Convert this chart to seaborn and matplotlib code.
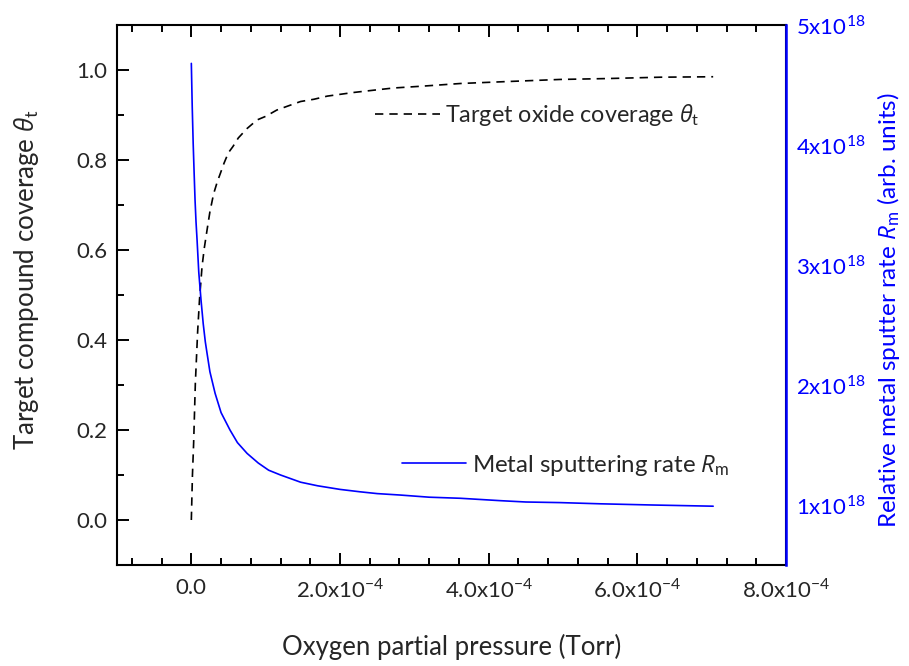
import matplotlib
matplotlib.use("Agg")
import matplotlib.pyplot as plt
from matplotlib.ticker import MultipleLocator, FixedLocator, FixedFormatter
from matplotlib.lines import Line2D
import seaborn as sns

# ---- data ----
pressure_theta = [0, 1.5e-6, 3.1e-6, 5.4e-6, 8.5e-6, 1.1e-5, 1.44e-5, 1.75e-5, 2.11e-5, 2.5e-5,
                  3.0e-5, 3.5e-5, 3.9e-5, 4.4e-5, 4.98e-5, 5.6e-5, 6.32e-5, 7.5e-5, 8.84e-5,
                  1.0e-4, 1.15e-4, 1.3e-4, 1.47e-4, 1.65e-4, 1.83e-4, 2.18e-4, 2.5e-4, 2.72e-4,
                  3.1e-4, 3.62e-4, 4.2e-4, 4.96e-4, 5.6e-4, 6.31e-4, 7.02e-4]
theta = [0.0, 0.10, 0.171, 0.304, 0.419, 0.49, 0.563, 0.605, 0.644, 0.685, 0.725, 0.752, 0.770,
         0.793, 0.816, 0.83, 0.849, 0.87, 0.889, 0.897, 0.911, 0.92, 0.930, 0.935, 0.942, 0.950,
         0.956, 0.960, 0.964, 0.970, 0.974, 0.979, 0.981, 0.984, 0.985]

pressure_rate = [0, 1.2e-6, 2.5e-6, 3.8e-6, 5e-6, 6.3e-6, 7.7e-6, 1.0e-5, 1.3e-5, 1.6e-5, 1.88e-5,
                 2.1e-5, 2.5e-5, 3.2e-5, 4.0e-5, 5.2e-5, 6.2e-5, 7.5e-5, 9.0e-5, 1.04e-4, 1.2e-4,
                 1.47e-4, 1.7e-4, 2.0e-4, 2.27e-4, 2.5e-4, 2.81e-4, 3.2e-4, 3.62e-4, 4.16e-4,
                 4.5e-4, 4.96e-4, 5.5e-4, 6.2e-4, 7.02e-4]
rate = [4.68e18, 4.32e18, 4.01e18, 3.76e18, 3.54e18, 3.36e18, 3.21e18, 2.94e18, 2.71e18,
        2.51e18, 2.36e18, 2.27e18, 2.11e18, 1.93e18, 1.77e18, 1.625e18, 1.52e18, 1.43e18,
        1.35e18, 1.29e18, 1.25e18, 1.19e18, 1.16e18, 1.13e18, 1.11e18, 1.095e18, 1.083e18,
        1.065e18, 1.056e18, 1.036e18, 1.025e18, 1.02e18, 1.01e18, 1.0e18, 0.99e18]

x_ticks = [0.0, 2e-4, 4e-4, 6e-4, 8e-4]
x_tick_labels = ["0.0", "2.0x10$^{\\mathrm{-}4}$", "4.0x10$^{\\mathrm{-}4}$",
                 "6.0x10$^{\\mathrm{-}4}$", "8.0x10$^{\\mathrm{-}4}$"]
y_ticks = [0.0, 0.2, 0.4, 0.6, 0.8, 1.0]
y_tick_labels = ["0.0", "0.2", "0.4", "0.6", "0.8", "1.0"]
r_ticks = [1e18, 2e18, 3e18, 4e18, 5e18]
r_tick_labels = ["1x10$^{18}$", "2x10$^{18}$", "3x10$^{18}$", "4x10$^{18}$", "5x10$^{18}$"]

x_title = "Oxygen partial pressure (Torr)"
y_title = r"Target compound coverage $\theta_\mathrm{t}$"
y2_title = r"Relative metal sputter rate $R_\mathrm{m}$ (arb. units)"
legend_theta = r"Target oxide coverage $\theta_\mathrm{t}$"
legend_rate = r"Metal sputtering rate $R_\mathrm{m}$"

sns.set_style("ticks")
FONT = "Lato"
plt.rcParams["font.family"] = [FONT, "DejaVu Sans"]
plt.rcParams["mathtext.fontset"] = "custom"
plt.rcParams["mathtext.rm"] = FONT
plt.rcParams["mathtext.it"] = "Open Sans:italic"
plt.rcParams["mathtext.fallback"] = "stixsans"

BLUE = "#0000ff"
W, H = 909, 666
fig = plt.figure(figsize=(W / 100, H / 100), dpi=100)
renderer = fig.canvas.get_renderer()


def fit_size(s, target_px, size0=16.0):
    """font size so that text s is target_px wide (unrotated)."""
    size = size0
    for _ in range(2):
        t = fig.text(0, 0, s, fontsize=size)
        w = t.get_window_extent(renderer).width
        t.remove()
        size *= target_px / w
    return size


tick_fs = fit_size("2.0x10", 68)
xlab_fs = fit_size(x_title, 340)
ylab_fs = fit_size(y_title, 340)
y2lab_fs = fit_size(y2_title, 435)
leg1_fs = fit_size(legend_theta, 255)
leg2_fs = fit_size(legend_rate, 257)

L, R, T, B = 117, 786, 25, 565
AW, AH = R - L, B - T
ax = fig.add_axes([L / W, 1 - B / H, AW / W, AH / H])

sns.lineplot(x=pressure_theta, y=theta, ax=ax, color="black", linewidth=1.2,
             dashes=(5, 3.6), sort=False)
ax.set_xlim(-1e-4, 8e-4)
ax.set_ylim(-0.1, 1.1)

ax.xaxis.set_major_locator(FixedLocator(x_ticks))
ax.xaxis.set_major_formatter(FixedFormatter(x_tick_labels))
ax.xaxis.set_minor_locator(MultipleLocator(4e-5))
ax.yaxis.set_major_locator(FixedLocator(y_ticks))
ax.yaxis.set_major_formatter(FixedFormatter(y_tick_labels))
ax.yaxis.set_minor_locator(MultipleLocator(0.1))

ax.tick_params(which="both", direction="in", top=True, right=True, width=1.4,
               color="black", labelsize=tick_fs)
ax.tick_params(which="major", length=8.5)
ax.tick_params(which="minor", length=5)
ax.tick_params(axis="x", pad=9)
ax.tick_params(axis="y", pad=7)
for s in ax.spines.values():
    s.set_linewidth(1.5)
    s.set_color("black")

ax.set_xlabel(x_title, fontsize=xlab_fs)
ax.xaxis.set_label_coords(0.5, -0.133)
ax.set_ylabel(y_title, fontsize=ylab_fs)
ax.yaxis.set_label_coords(-0.118, 0.5)

ax2 = ax.twinx()
sns.lineplot(x=pressure_rate, y=rate, ax=ax2, color=BLUE, linewidth=1.2, sort=False)
ax2.set_ylim(0.5e18, 5e18)
ax2.yaxis.set_major_locator(FixedLocator(r_ticks))
ax2.yaxis.set_major_formatter(FixedFormatter(r_tick_labels))
ax2.yaxis.set_minor_locator(FixedLocator([]))
ax2.tick_params(axis="y", which="both", length=0, pad=7, labelcolor=BLUE, labelsize=tick_fs)
for name, s in ax2.spines.items():
    s.set_visible(name == "right")
ax2.spines["right"].set_color(BLUE)
ax2.spines["right"].set_linewidth(1.8)
ax2.set_ylabel(y2_title, fontsize=y2lab_fs, color=BLUE)
ax2.yaxis.set_label_coords(1.133, 0.45)

# legends
h1 = Line2D([], [], color="black", linewidth=1.2, dashes=(5, 3.6))
leg1 = ax2.legend([h1], [legend_theta], loc="center left",
                  bbox_to_anchor=(0.386, 0.833), frameon=False, fontsize=leg1_fs,
                  handlelength=65 / (leg1_fs * 100 / 72), handletextpad=5 / (leg1_fs * 100 / 72),
                  borderpad=0, borderaxespad=0)
ax2.add_artist(leg1)
h2 = Line2D([], [], color=BLUE, linewidth=1.2)
ax2.legend([h2], [legend_rate], loc="center left",
           bbox_to_anchor=(0.426, 0.185), frameon=False, fontsize=leg2_fs,
           handlelength=64 / (leg2_fs * 100 / 72), handletextpad=6 / (leg2_fs * 100 / 72),
           borderpad=0, borderaxespad=0)

# place axis titles so their centres match the reference (image px, y from top)
fig.canvas.draw()


def place(axis, label, cx, cy):
    bb = label.get_window_extent(renderer)
    dx = cx - (bb.x0 + bb.x1) / 2
    dy = (H - cy) - (bb.y0 + bb.y1) / 2
    x0, y0 = label.get_position()
    axis.set_label_coords(x0 + dx / AW, y0 + dy / AH)


place(ax.xaxis, ax.xaxis.label, 452, 647)
place(ax.yaxis, ax.yaxis.label, 26.5, 280)
place(ax2.yaxis, ax2.yaxis.label, 888, 310)

fig.savefig("out.png", dpi=100)
